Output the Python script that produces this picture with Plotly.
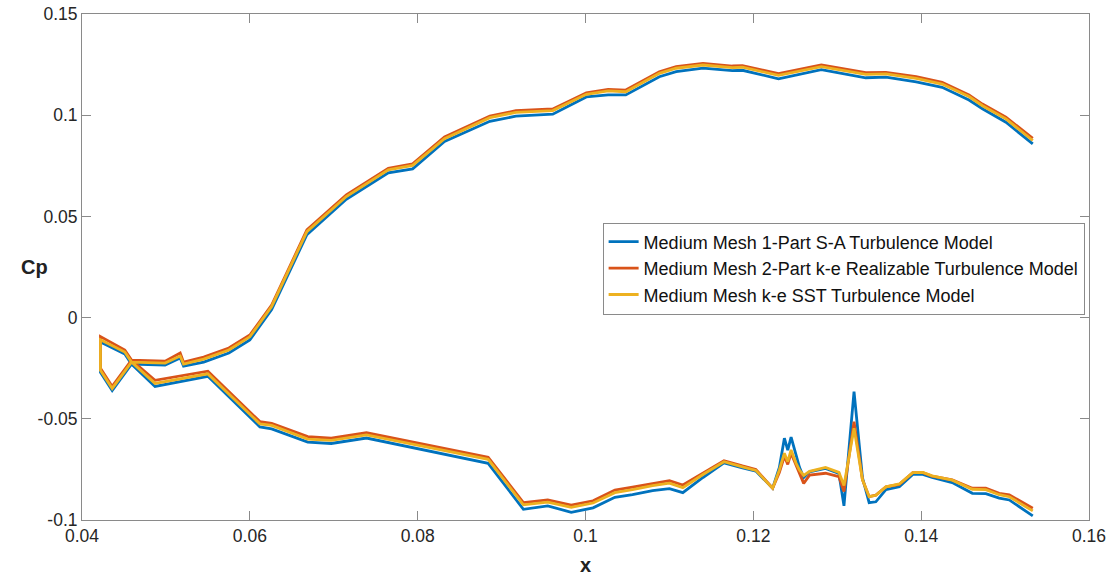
import plotly.graph_objects as go

# ---------------- data ----------------
series_names = [
    "Medium Mesh 1-Part S-A Turbulence Model",
    "Medium Mesh 2-Part k-e Realizable Turbulence Model",
    "Medium Mesh k-e SST Turbulence Model",
]
series_colors = ["#0072BD", "#D95319", "#EDB120"]

# branch 1: from leading edge through the positive-Cp branch to the trailing edge
x_branch1 = [0.0422, 0.0436, 0.0459, 0.0499, 0.0517, 0.0521, 0.0545, 0.0575, 0.0600,
             0.0626, 0.0668, 0.0715, 0.0765, 0.0794, 0.0832, 0.0886, 0.0917, 0.0961,
             0.1001, 0.1027, 0.1048, 0.1088, 0.1108, 0.1140, 0.1175, 0.1187, 0.1230,
             0.1281, 0.1334, 0.1358, 0.1394, 0.1425, 0.1457, 0.1473, 0.1501, 0.1533]
cp_branch1_sa = [-0.027, -0.036, -0.023, -0.0235, -0.020, -0.024, -0.022, -0.0175, -0.011,
                 0.004, 0.041, 0.0585, 0.0715, 0.0735, 0.087, 0.097, 0.0995, 0.1005,
                 0.109, 0.110, 0.110, 0.119, 0.1215, 0.1233, 0.122, 0.1222, 0.118,
                 0.1225, 0.1185, 0.1188, 0.1165, 0.1138, 0.1075, 0.1032, 0.0965, 0.0858]
cp_branch1_rke = [-0.025, -0.034, -0.021, -0.0215, -0.0175, -0.022, -0.0195, -0.015, -0.0086,
                  0.0062, 0.0433, 0.0606, 0.0738, 0.0760, 0.0892, 0.0996, 0.1022, 0.1031,
                  0.1111, 0.1128, 0.1124, 0.1215, 0.1240, 0.1256, 0.1243, 0.1245, 0.1205,
                  0.1248, 0.1210, 0.1212, 0.1190, 0.1162, 0.1100, 0.1055, 0.0990, 0.0886]
cp_branch1_sst = [-0.026, -0.035, -0.022, -0.0225, -0.019, -0.023, -0.0205, -0.016, -0.0095,
                  0.0055, 0.0425, 0.0598, 0.0730, 0.0752, 0.0884, 0.0988, 0.1014, 0.1023,
                  0.1103, 0.1120, 0.1116, 0.1207, 0.1232, 0.1248, 0.1235, 0.1237, 0.1197,
                  0.1240, 0.1202, 0.1204, 0.1182, 0.1154, 0.1092, 0.1047, 0.0982, 0.0875]

# branch 2: from leading edge through the negative-Cp branch to the trailing edge
x_branch2 = [0.0422, 0.0451, 0.0459, 0.0487, 0.0550, 0.0612, 0.0626, 0.0669, 0.0697,
             0.0739, 0.0884, 0.0926, 0.0955, 0.0983, 0.1009, 0.1035, 0.1056, 0.1080,
             0.1100, 0.1116, 0.1140, 0.1165, 0.1187, 0.1203, 0.1223, 0.1231, 0.1237,
             0.1241, 0.1245, 0.1251, 0.1255, 0.1260, 0.1267, 0.1286, 0.1302, 0.1308,
             0.1320, 0.1330, 0.1338, 0.1346, 0.1358, 0.1374, 0.1390, 0.1402, 0.1413,
             0.1437, 0.1461, 0.1477, 0.1493, 0.1505, 0.1533]
cp_branch2_sa = [-0.012, -0.018, -0.023, -0.034, -0.029, -0.054, -0.055, -0.0615, -0.0622,
                 -0.0595, -0.072, -0.0947, -0.093, -0.0962, -0.094, -0.0888, -0.0875, -0.0855,
                 -0.0845, -0.0865, -0.079, -0.0718, -0.0742, -0.0758, -0.0843, -0.074, -0.0596,
                 -0.0655, -0.0591, -0.068, -0.074, -0.079, -0.0762, -0.0745, -0.077, -0.093,
                 -0.0366, -0.079, -0.0914, -0.091, -0.085, -0.0835, -0.0775, -0.0775, -0.079,
                 -0.0815, -0.0868, -0.087, -0.0892, -0.0901, -0.098]
cp_branch2_rke = [-0.0094, -0.016, -0.021, -0.031, -0.0265, -0.0514, -0.0522, -0.0588, -0.0596,
                  -0.0569, -0.069, -0.0914, -0.0901, -0.0926, -0.0905, -0.0852, -0.0838, -0.0819,
                  -0.0806, -0.0827, -0.0769, -0.0707, -0.0733, -0.075, -0.0843, -0.0765, -0.0685,
                  -0.0725, -0.067, -0.073, -0.0765, -0.0819, -0.0778, -0.0769, -0.0786, -0.086,
                  -0.0514, -0.080, -0.0885, -0.0877, -0.0836, -0.0824, -0.0766, -0.0766, -0.0783,
                  -0.0802, -0.0843, -0.0843, -0.0868, -0.0876, -0.0942]
cp_branch2_sst = [-0.011, -0.017, -0.022, -0.0325, -0.0278, -0.0525, -0.0533, -0.060, -0.0607,
                  -0.058, -0.070, -0.0925, -0.0912, -0.0937, -0.0916, -0.0865, -0.085, -0.083,
                  -0.0818, -0.084, -0.0775, -0.0712, -0.0738, -0.0755, -0.0843, -0.0753, -0.067,
                  -0.0712, -0.0654, -0.072, -0.0753, -0.078, -0.076, -0.074, -0.0765, -0.083,
                  -0.0547, -0.080, -0.0885, -0.0878, -0.0836, -0.0822, -0.0766, -0.0765, -0.0782,
                  -0.0803, -0.0848, -0.085, -0.0875, -0.0885, -0.0955]

x_ticks = [0.04, 0.06, 0.08, 0.1, 0.12, 0.14, 0.16]
x_tick_labels = ["0.04", "0.06", "0.08", "0.1", "0.12", "0.14", "0.16"]
y_ticks = [-0.1, -0.05, 0, 0.05, 0.1, 0.15]
y_tick_labels = ["-0.1", "-0.05", "0", "0.05", "0.1", "0.15"]

# ---------------- figure ----------------
branch1 = [cp_branch1_sa, cp_branch1_rke, cp_branch1_sst]
branch2 = [cp_branch2_sa, cp_branch2_rke, cp_branch2_sst]

FONT = "Liberation Sans, Arial, Helvetica, sans-serif"
fig = go.Figure()
for name, color, b1, b2 in zip(series_names, series_colors, branch1, branch2):
    xs = list(reversed(x_branch1)) + x_branch2
    ys = list(reversed(b1)) + b2
    fig.add_trace(go.Scatter(x=xs, y=ys, mode="lines", name=name,
                             line=dict(color=color, width=2.8)))

axis_common = dict(
    showgrid=False, zeroline=False, showline=True, linecolor="#8a8a8a", linewidth=1,
    mirror="ticks", ticks="inside", ticklen=9, tickcolor="#8a8a8a", tickwidth=1,
    tickfont=dict(family=FONT, size=17.5, color="#262626"), automargin=False,
    ticklabeloverflow="allow",
)
fig.update_layout(
    width=1114, height=577,
    margin=dict(l=82, r=25, t=14, b=57),
    paper_bgcolor="white", plot_bgcolor="white",
    xaxis=dict(range=[0.04, 0.16], tickvals=x_ticks, ticktext=x_tick_labels, **axis_common),
    yaxis=dict(range=[-0.1, 0.15], tickvals=y_ticks, ticktext=y_tick_labels, **axis_common),
    legend=dict(x=0.517, y=0.497, xanchor="left", yanchor="middle",
                bgcolor="white", bordercolor="#8a8a8a", borderwidth=1,
                font=dict(family=FONT, size=18, color="#111"),
                itemwidth=30, tracegroupgap=0),
    annotations=[
        dict(text="<b>Cp</b>", x=-0.047, y=0.5, xref="paper", yref="paper", showarrow=False,
             xanchor="center", yanchor="middle",
             font=dict(family=FONT, size=20, color="#222")),
        dict(text="<b>x</b>", x=0.5, y=-0.089, xref="paper", yref="paper", showarrow=False,
             xanchor="center", yanchor="middle",
             font=dict(family=FONT, size=20, color="#222")),
    ],
    showlegend=True,
)

# remove the default page margin so the figure fills the window exactly
fig.write_html("out.html", config={"displayModeBar": False},
               post_script="document.body.style.margin='0';")
